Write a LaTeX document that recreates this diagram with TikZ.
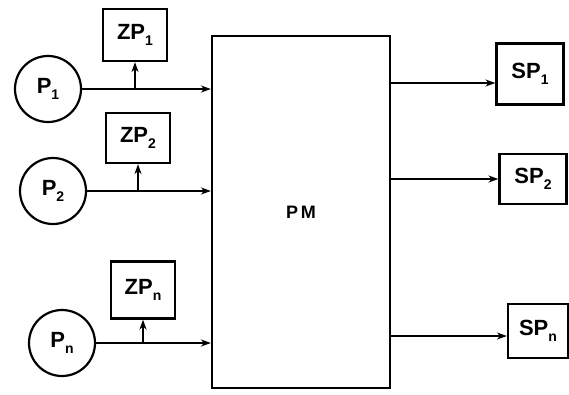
\documentclass[tikz,border=0pt]{standalone}
\usepackage{fontspec}
\setmainfont{Liberation Sans}
\usepackage{tikz}
\usetikzlibrary{positioning,arrows.meta,calc}
\newcommand{\idx}[1]{\raisebox{-0.55ex}{\fontsize{14}{14}\selectfont#1}}
\tikzset{
  node-box/.style={draw,line width=2.2pt,minimum width=64pt,minimum height=52pt,
    inner sep=0pt,align=center,font=\fontsize{22}{22}\selectfont\bfseries},
  node-state/.style={draw,line width=2.2pt,circle,minimum size=66pt,inner sep=0pt,
    font=\fontsize{22}{22}\selectfont\bfseries},
  node-main/.style={draw,line width=2.2pt,minimum width=178pt,minimum height=352pt,
    inner sep=0pt,font=\fontsize{18}{18}\selectfont\bfseries},
  arrow/.style={-{Stealth[length=10pt,width=7pt]},line width=2.2pt},
}

\begin{document}
\begin{tikzpicture}[x=1pt,y=-1pt]
  \useasboundingbox (0,0) rectangle (569,394);
  % processing module
  \node[node-main] (pm) at (301,212) {P\,M};
  % sources
  \node[node-state] (p1) at (48,89)  {P\idx{1}};
  \node[node-state] (p2) at (53,191) {P\idx{2}};
  \node[node-state] (pn) at (62,343) {P\idx{n}};
  \node[node-box] (zp1) at (135,35)  {ZP\idx{1}};
  \node[node-box,minimum height=50pt] (zp2) at (138,138) {ZP\idx{2}};
  \node[node-box,minimum height=57pt] (zpn) at (143,290) {ZP\idx{n}};
  % sinks
  \node[node-box,minimum width=67pt,minimum height=61pt] (sp1) at (530,74)  {SP\idx{1}};
  \node[node-box,minimum width=67pt,minimum height=50pt] (sp2) at (533,179) {SP\idx{2}};
  \node[node-box,minimum width=60pt,minimum height=54pt] (spn) at (538,331) {SP\idx{n}};
  % inputs
  \draw[arrow] (p1) -- (p1 -| pm.west);
  \draw[arrow] (p2) -- (p2 -| pm.west);
  \draw[arrow] (pn) -- (pn -| pm.west);
  \draw[arrow] (zp1 |- p1) -- (zp1);
  \draw[arrow] (zp2 |- p2) -- (zp2);
  \draw[arrow] (zpn |- pn) -- (zpn);
  % outputs
  \draw[arrow] ([yshift=-9pt]sp1.west -| pm.east) -- ([yshift=-9pt]sp1.west);
  \draw[arrow] (pm.east |- sp2) -- (sp2);
  \draw[arrow] ([yshift=-5pt]spn.west -| pm.east) -- ([yshift=-5pt]spn.west);
\end{tikzpicture}
\end{document}
